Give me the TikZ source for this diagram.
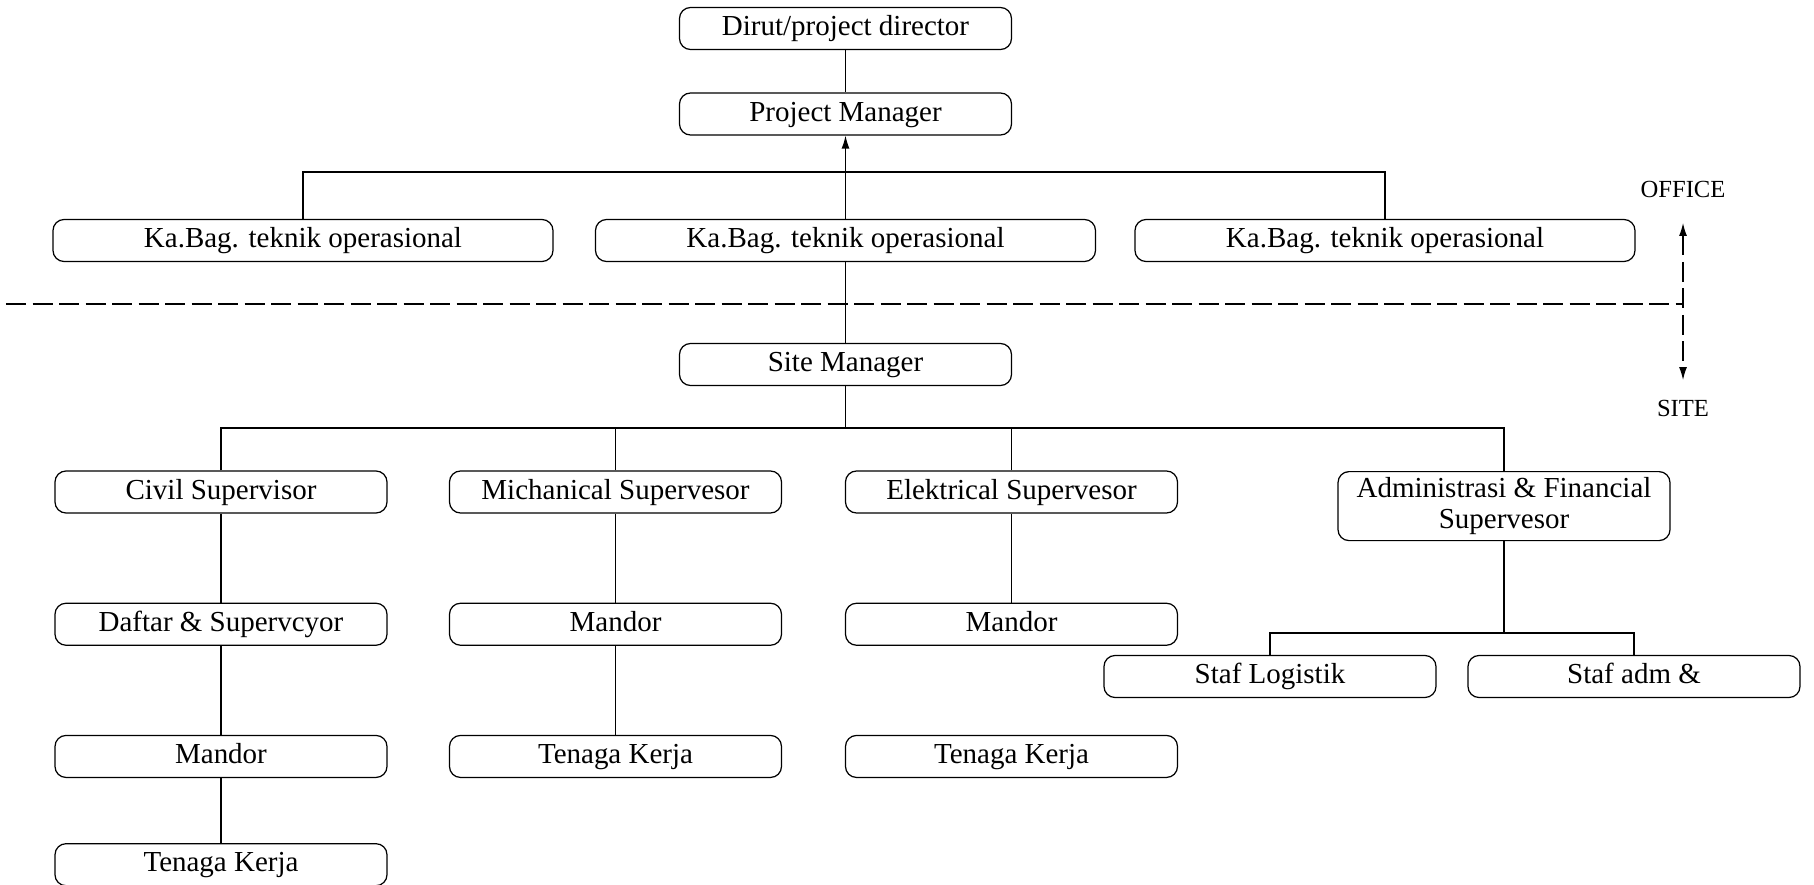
\documentclass[tikz,border=0pt]{standalone}
\usepackage{fontspec}
\setmainfont{Liberation Serif}
\usetikzlibrary{arrows.meta,positioning}

\begin{document}
\begin{tikzpicture}[
    every node/.style={font=\fontsize{16.5}{17.5}\selectfont},
    post/.style={draw, rounded corners=2.2mm, align=center, minimum height=0.84cm, minimum width=6.64cm, inner sep=1pt, text height=11.5pt, text depth=3.5pt, line width=0.7pt},
    wide/.style={post, minimum width=10cm},
    link/.style={line width=0.7pt},
    uplink/.style={-{Latex[length=2.6mm,width=1.6mm]}, line width=0.7pt},
    divider/.style={line width=0.7pt, dash pattern=on 4mm off 1.3mm},
    zone/.style={font=\fontsize{14}{16}\selectfont}
]
\useasboundingbox (0,0) rectangle (36.28,-17.7);
% office
\node[post] (dirut) at (16.91,-0.57) {Dirut/project director};
\node[post] (pm) at (16.91,-2.28) {Project Manager};
\node[wide] (kbl) at (6.06,-4.81) {Ka.Bag. teknik operasional};
\node[wide] (kbm) at (16.91,-4.81) {Ka.Bag. teknik operasional};
\node[wide] (kbr) at (27.7,-4.81) {Ka.Bag. teknik operasional};
\coordinate (officebus) at (16.91,-3.44);
% site
\node[post] (site) at (16.91,-7.29) {Site Manager};
\coordinate (sitebus) at (16.91,-8.56);
\node[post] (civil) at (4.42,-9.84) {Civil Supervisor};
\node[post] (mich) at (12.31,-9.84) {Michanical Supervesor};
\node[post] (elek) at (20.23,-9.84) {Elektrical Supervesor};
\node[post, text height=, text depth=, minimum height=1.38cm, anchor=north] (admin) at (30.08,-9.42) {Administrasi \& Financial\\Supervesor};
\node[post, below=1.78cm of civil] (daftar) {Daftar \& Supervcyor};
\node[post, below=1.78cm of daftar] (mandorc) {Mandor};
\node[post, below=1.3cm of mandorc] (tenagac) {Tenaga Kerja};
\node[post, below=1.78cm of mich] (mandorm) {Mandor};
\node[post, below=1.78cm of mandorm] (tenagam) {Tenaga Kerja};
\node[post, below=1.78cm of elek] (mandore) {Mandor};
\node[post, below=1.78cm of mandore] (tenagae) {Tenaga Kerja};
\coordinate (adminbus) at (30.08,-12.66);
\node[post] (logistik) at (25.4,-13.53) {Staf Logistik};
\node[post] (stafadm) at (32.68,-13.53) {Staf adm \&};
% office / site split
\coordinate (splitstart) at (0.12,-6.08);
\coordinate (splitend) at (33.66,-6.08);
\coordinate (uptip) at (33.66,-4.46);
\coordinate (downtip) at (33.66,-7.6);
\node[zone] (office) at (33.66,-3.78) {OFFICE};
\node[zone] (sitelabel) at (33.66,-8.16) {SITE};

\draw[link] (dirut) -- (pm);
\draw[uplink] (kbm) -- (pm);
\draw[link] (kbl.north) |- (officebus) -| (kbr.north);
\draw[link] (kbm) -- (site);
\draw[link] (site) -- (sitebus);
\draw[link] (civil.north) |- (sitebus) -| (admin.north);
\draw[link] (mich.north) -- (mich.north |- sitebus);
\draw[link] (elek.north) -- (elek.north |- sitebus);
\draw[link] (civil) -- (daftar);
\draw[link] (daftar) -- (mandorc);
\draw[link] (mandorc) -- (tenagac);
\draw[link] (mich) -- (mandorm);
\draw[link] (mandorm) -- (tenagam);
\draw[link] (elek) -- (mandore);
\draw[link] (admin) -- (adminbus);
\draw[link] (logistik.north) |- (adminbus) -| (stafadm.north);
\draw[divider] (splitstart) -- (splitend);
\draw[divider, {Latex[length=2.6mm,width=1.6mm]}-{Latex[length=2.6mm,width=1.6mm]}] (uptip) -- (downtip);
\end{tikzpicture}
\end{document}
